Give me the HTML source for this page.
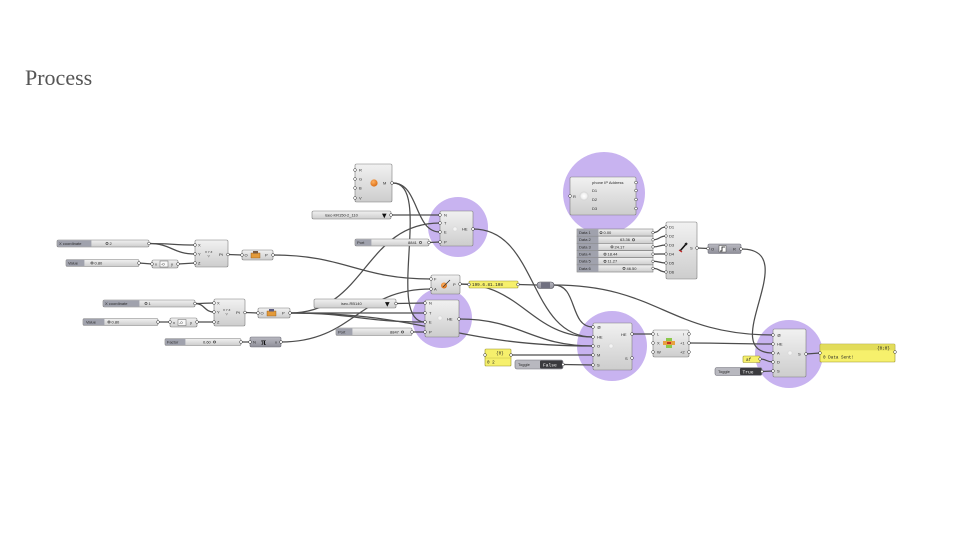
<!DOCTYPE html>
<html><head><meta charset="utf-8"><style>
html,body{margin:0;padding:0;background:#fff;width:960px;height:540px;overflow:hidden}
svg{display:block}
.t{font-family:"Liberation Sans",sans-serif;font-size:4px;fill:#2a2a2a}
.tw{font-family:"Liberation Sans",sans-serif;font-size:4px;fill:#fff}
.m{font-family:"Liberation Mono",monospace;font-size:4.3px;fill:#222}
.c{fill:url(#g);stroke:#7e7e7e;stroke-width:.6}
.cd{fill:url(#gd);stroke:#6e6e78;stroke-width:.6}
.w{fill:none;stroke:#4d4d4d;stroke-width:1.25}
.p{fill:#c8b3f0}
.gr{fill:#fff;stroke:#333;stroke-width:.5}
.lb{fill:#a0a2ad}
.o{fill:none;stroke:#333;stroke-width:.6}
.y{fill:#f6f06c;stroke:#9a942a;stroke-width:.6}
</style></head><body>
<svg width="960" height="540" viewBox="0 0 960 540" xmlns="http://www.w3.org/2000/svg">
<defs>
<linearGradient id="g" x1="0" y1="0" x2="0" y2="1"><stop offset="0" stop-color="#f1f1f1"/><stop offset="1" stop-color="#cdcdcd"/></linearGradient>
<linearGradient id="gd" x1="0" y1="0" x2="0" y2="1"><stop offset="0" stop-color="#b9b9c1"/><stop offset="1" stop-color="#8f8f99"/></linearGradient>
<radialGradient id="ob" cx="0.4" cy="0.35" r="0.7"><stop offset="0" stop-color="#ffb060"/><stop offset="1" stop-color="#d86a10"/></radialGradient>
<radialGradient id="wb" cx="0.5" cy="0.5" r="0.5"><stop offset="0" stop-color="#ffffff"/><stop offset="0.6" stop-color="#f2f2f2"/><stop offset="1" stop-color="#cfcfcf"/></radialGradient>
</defs>
<rect width="960" height="540" fill="#fff"/>
<text x="25" y="85" font-family="Liberation Serif, serif" font-size="22" fill="#555">Process</text>

<!-- purple highlight circles -->
<circle class="p" cx="458" cy="227" r="30"/>
<circle class="p" cx="442" cy="318" r="30"/>
<circle class="p" cx="604" cy="193" r="41"/>
<circle class="p" cx="612" cy="346" r="35"/>
<circle class="p" cx="789" cy="354" r="34"/>

<!-- wires -->
<path class="w" d="M149 243.5 C170 243.5 174 245 195 245"/>
<path class="w" d="M149 243.5 C171 243.5 173 254 195 254"/>
<path class="w" d="M139 263 L152 264"/>
<path class="w" d="M178 264 L195 263"/>
<path class="w" d="M228 254.5 L242 255"/>
<path class="w" d="M273 255 C346 255 358 279 431 279"/>
<path class="w" d="M195 303.5 C204 303.5 205 303 214 303"/>
<path class="w" d="M195 303.5 C205 303.5 204 312 214 312"/>
<path class="w" d="M158 322 L170 322"/>
<path class="w" d="M197 322 L214 322"/>
<path class="w" d="M245 312.5 L258 313"/>
<path class="w" d="M290 313 C351 313 364 313 425 313"/>
<path class="w" d="M290 313 C366 313 364 223 440 223"/>
<path class="w" d="M290 313 C352 313 363 322 425 322"/>
<path class="w" d="M290 313 C430 313 453 346 593 346"/>
<path class="w" d="M241 342 L250 342"/>
<path class="w" d="M281 342 C354 342 358 289 431 289"/>
<path class="w" d="M393 183 C419 183 414 232 440 232"/>
<path class="w" d="M393 183 C433 183 385 322 425 322"/>
<path class="w" d="M391 215 L440 215"/>
<path class="w" d="M429 242.5 L440 242"/>
<path class="w" d="M396 303.5 L425 303"/>
<path class="w" d="M412 332 L425 332"/>
<path class="w" d="M460 284 L469 284.5"/>
<path class="w" d="M518 284.5 L537 285"/>
<path class="w" d="M554 285 C578 285 569 327 593 327"/>
<path class="w" d="M554 285 C658 285 669 335 773 335"/>
<path class="w" d="M473 229 C538 229 528 337 593 337"/>
<path class="w" d="M460 284 C522 284 531 337 593 337"/>
<path class="w" d="M459 319 C521 319 531 346 593 346"/>
<path class="w" d="M511 355 L593 355"/>
<path class="w" d="M563 364.5 L593 365"/>
<path class="w" d="M632 334 L653 334"/>
<path class="w" d="M689 343 C731 343 731 344 773 344"/>
<path class="w" d="M741 249 C805 249 715 353 773 353"/>
<path class="w" d="M760 359 C767 359 766 362 773 362"/>
<path class="w" d="M762 371.5 L773 371"/>
<path class="w" d="M806 354 L820 353"/>
<path class="w" d="M653 232.6 C660 232.6 659 227 666 227"/>
<path class="w" d="M653 239.8 C660 239.8 659 236 666 236"/>
<path class="w" d="M653 246.9 C660 246.9 659 245 666 245"/>
<path class="w" d="M653 254.1 C660 254.1 659 254 666 254"/>
<path class="w" d="M653 261.3 C660 261.3 659 263 666 263"/>
<path class="w" d="M653 268.4 C660 268.4 659 272 666 272"/>
<path class="w" d="M697 248 L708 248.5"/>

<!-- slider X coordinate 1 -->
<rect class="c" x="57" y="240" width="92" height="7" rx="1.5"/>
<rect class="lb" x="57.4" y="240.4" width="34" height="6.2"/>
<text class="t" x="59" y="245.2">X coordinate</text>
<circle class="o" cx="107" cy="243.5" r="1.1"/>
<text class="t" x="109.5" y="245.2">2</text>
<circle class="gr" cx="149" cy="243.5" r="1.4"/>

<!-- slider Value 1 -->
<rect class="c" x="66" y="259.5" width="73" height="7" rx="1.5"/>
<rect class="lb" x="66.4" y="259.9" width="18" height="6.2"/>
<text class="t" x="68" y="264.7">Value</text>
<circle class="o" cx="92" cy="263" r="1.1"/>
<text class="t" x="94.5" y="264.7">0.80</text>
<circle class="gr" cx="139" cy="263" r="1.4"/>

<!-- negative 1 -->
<rect class="c" x="152" y="260" width="26" height="8" rx="1.5"/>
<text class="t" x="155" y="265.5">x</text>
<rect x="160" y="261" width="8" height="6" fill="#f8f8f8" stroke="#666" stroke-width=".5"/>
<text class="t" x="161" y="265.5">-0</text>
<text class="t" x="171" y="265.5">y</text>
<circle class="gr" cx="152" cy="264" r="1.4"/><circle class="gr" cx="178" cy="264" r="1.4"/>

<!-- Pt 1 -->
<rect class="c" x="195" y="240" width="33" height="27" rx="1.5"/>
<text class="t" x="198" y="246.3">X</text><text class="t" x="198" y="255.3">Y</text><text class="t" x="198" y="264.3">Z</text>
<text class="t" x="205" y="253" style="font-size:3px">X Y Z</text>
<text class="t" x="207.5" y="257" style="font-size:3px">▽</text>
<text class="t" x="219" y="256">Pt</text>
<circle class="gr" cx="195" cy="245" r="1.4"/><circle class="gr" cx="195" cy="254" r="1.4"/><circle class="gr" cx="195" cy="263" r="1.4"/><circle class="gr" cx="228" cy="254.5" r="1.4"/>

<!-- O1 -->
<rect class="c" x="242" y="250" width="31" height="10" rx="1.5"/>
<text class="t" x="244.5" y="256.5">O</text>
<rect x="251" y="253" width="9" height="5" fill="#e39a3a" stroke="#8a5010" stroke-width=".4"/>
<rect x="253" y="251" width="5" height="2.5" fill="#7a5a40"/>
<text class="t" x="265" y="256.5">P</text>
<circle class="gr" cx="242" cy="255" r="1.4"/><circle class="gr" cx="273" cy="255" r="1.4"/>

<!-- slider X coordinate 2 -->
<rect class="c" x="103" y="300" width="92" height="7" rx="1.5"/>
<rect class="lb" x="103.4" y="300.4" width="36" height="6.2"/>
<text class="t" x="105" y="305.2">X coordinate</text>
<circle class="o" cx="146" cy="303.5" r="1.1"/>
<text class="t" x="148.5" y="305.2">1</text>
<circle class="gr" cx="195" cy="303.5" r="1.4"/>

<!-- slider Value 2 -->
<rect class="c" x="83" y="318.5" width="75" height="7" rx="1.5"/>
<rect class="lb" x="83.4" y="318.9" width="21" height="6.2"/>
<text class="t" x="86" y="323.7">Value</text>
<circle class="o" cx="109" cy="322" r="1.1"/>
<text class="t" x="111.5" y="323.7">0.80</text>
<circle class="gr" cx="158" cy="322" r="1.4"/>

<!-- negative 2 -->
<rect class="c" x="170" y="318" width="27" height="9" rx="1.5"/>
<text class="t" x="173" y="324">x</text>
<rect x="178" y="319.5" width="8" height="6" fill="#f8f8f8" stroke="#666" stroke-width=".5"/>
<text class="t" x="179" y="324">-0</text>
<text class="t" x="190" y="324">y</text>
<circle class="gr" cx="170" cy="322" r="1.4"/><circle class="gr" cx="197" cy="322" r="1.4"/>

<!-- Pt 2 -->
<rect class="c" x="214" y="299" width="31" height="27" rx="1.5"/>
<text class="t" x="217" y="304.3">X</text><text class="t" x="217" y="313.3">Y</text><text class="t" x="217" y="323.3">Z</text>
<text class="t" x="223" y="311" style="font-size:3px">X Y Z</text>
<text class="t" x="225.5" y="315" style="font-size:3px">▽</text>
<text class="t" x="236" y="314">Pt</text>
<circle class="gr" cx="214" cy="303" r="1.4"/><circle class="gr" cx="214" cy="312" r="1.4"/><circle class="gr" cx="214" cy="322" r="1.4"/><circle class="gr" cx="245" cy="312.5" r="1.4"/>

<!-- O2 -->
<rect class="c" x="258" y="308" width="32" height="10" rx="1.5"/>
<text class="t" x="260.5" y="314.5">O</text>
<rect x="267" y="311" width="9" height="5" fill="#e39a3a" stroke="#8a5010" stroke-width=".4"/>
<rect x="269" y="309" width="5" height="2.5" fill="#5a5a80"/>
<text class="t" x="282" y="314.5">P</text>
<circle class="gr" cx="258" cy="313" r="1.4"/><circle class="gr" cx="290" cy="313" r="1.4"/>

<!-- Factor slider -->
<rect class="c" x="165" y="338.5" width="76" height="7" rx="1.5"/>
<rect class="lb" x="165.4" y="338.9" width="20" height="6.2"/>
<text class="t" x="167" y="343.7">Factor</text>
<text class="t" x="203" y="343.7">0.60</text>
<circle class="o" cx="214.5" cy="342" r="1.1"/>
<circle class="gr" cx="241" cy="342" r="1.4"/>

<!-- Pi -->
<rect class="cd" x="250" y="337" width="31" height="10" rx="1.5"/>
<text class="t" x="253" y="343.5">N</text>
<text x="261" y="345" font-family="Liberation Serif, serif" font-size="9" font-weight="bold" fill="#111">π</text>
<text class="t" x="275" y="343.5">x</text>
<circle class="gr" cx="250" cy="342" r="1.4"/><circle class="gr" cx="281" cy="342" r="1.4"/>

<!-- RGB M component -->
<rect class="c" x="355" y="164" width="37" height="38" rx="1.5"/>
<text class="t" x="359" y="171.5">R</text><text class="t" x="359" y="180.5">G</text><text class="t" x="359" y="189.5">B</text><text class="t" x="359" y="199.5">V</text>
<circle cx="374" cy="183" r="3.6" fill="url(#ob)"/>
<text class="t" x="383" y="184.5">M</text>
<circle class="gr" cx="355" cy="170" r="1.4"/><circle class="gr" cx="355" cy="179" r="1.4"/><circle class="gr" cx="355" cy="188" r="1.4"/><circle class="gr" cx="355" cy="198" r="1.4"/><circle class="gr" cx="392" cy="183" r="1.4"/>

<!-- value list KR150 -->
<rect class="c" x="312" y="211" width="79" height="8" rx="1.5"/>
<text class="t" x="325" y="216.5">isec-KR150-2_110</text>
<text x="382" y="217.5" font-family="DejaVu Sans, sans-serif" font-size="6" fill="#111">▼</text>
<circle class="gr" cx="391" cy="215" r="1.4"/>

<!-- upper HE -->
<rect class="c" x="440" y="211" width="33" height="35" rx="1.5"/>
<text class="t" x="444" y="216.5">N</text><text class="t" x="444" y="224.5">T</text><text class="t" x="444" y="233.5">E</text><text class="t" x="444" y="243.5">P</text>
<circle cx="455" cy="229" r="2.5" fill="url(#wb)" opacity=".8"/>
<text class="t" x="462" y="230.5">HE</text>
<circle class="gr" cx="440" cy="215" r="1.4"/><circle class="gr" cx="440" cy="223" r="1.4"/><circle class="gr" cx="440" cy="232" r="1.4"/><circle class="gr" cx="440" cy="242" r="1.4"/><circle class="gr" cx="473" cy="229" r="1.4"/>

<!-- Port 1 -->
<rect class="c" x="355" y="239" width="74" height="7" rx="1.5"/>
<rect class="lb" x="355.4" y="239.4" width="16" height="6.2"/>
<text class="t" x="357" y="244.2">Port</text>
<text class="t" x="408" y="244.2">8841</text>
<circle class="o" cx="420.5" cy="242.5" r="1.1"/>
<circle class="gr" cx="429" cy="242.5" r="1.4"/>

<!-- F A P component -->
<rect class="c" x="431" y="275" width="29" height="19" rx="1.5"/>
<text class="t" x="434" y="280.5">F</text><text class="t" x="434" y="290.5">A</text>
<circle cx="444" cy="285.5" r="3" fill="url(#ob)"/>
<path d="M443 287 L450 280" stroke="#333" stroke-width=".8"/>
<text class="t" x="453" y="286">P</text>
<circle class="gr" cx="431" cy="279" r="1.4"/><circle class="gr" cx="431" cy="289" r="1.4"/><circle class="gr" cx="460" cy="284" r="1.4"/>

<!-- panel ip -->
<rect class="y" x="469" y="281" width="49" height="7" rx="1"/>
<text class="m" x="472" y="286">199.6.81.108</text>
<circle class="gr" cx="469" cy="284.5" r="1.4"/><circle class="gr" cx="518" cy="284.5" r="1.4"/>

<!-- value list RB140 -->
<rect class="c" x="314" y="299" width="82" height="9" rx="1.5"/>
<text class="t" x="341" y="305">isec-RB140</text>
<text x="385" y="306" font-family="DejaVu Sans, sans-serif" font-size="6" fill="#111">▼</text>
<circle class="gr" cx="396" cy="303.5" r="1.4"/>

<!-- lower HE -->
<rect class="c" x="425" y="300" width="34" height="37" rx="1.5"/>
<text class="t" x="429" y="304.5">N</text><text class="t" x="429" y="314.5">T</text><text class="t" x="429" y="323.5">E</text><text class="t" x="429" y="333.5">P</text>
<circle cx="440" cy="318" r="2.5" fill="url(#wb)" opacity=".8"/>
<text class="t" x="447" y="320.5">HE</text>
<circle class="gr" cx="425" cy="303" r="1.4"/><circle class="gr" cx="425" cy="313" r="1.4"/><circle class="gr" cx="425" cy="322" r="1.4"/><circle class="gr" cx="425" cy="332" r="1.4"/><circle class="gr" cx="459" cy="319" r="1.4"/>

<!-- Port 2 -->
<rect class="c" x="336" y="328" width="76" height="7.5" rx="1.5"/>
<rect class="lb" x="336.4" y="328.4" width="16" height="6.7"/>
<text class="t" x="338" y="333.5">Port</text>
<text class="t" x="390" y="333.5">8847</text>
<circle class="o" cx="402.5" cy="332" r="1.1"/>
<circle class="gr" cx="412" cy="332" r="1.4"/>

<!-- relay -->
<rect x="537" y="282" width="17" height="6.5" rx="3" fill="url(#gd)" stroke="#4a4a55" stroke-width=".6"/>
<rect x="541" y="282.5" width="9" height="5.5" fill="#707080"/>

<!-- phone IP component -->
<rect class="c" x="570" y="177" width="66" height="38" rx="1.5"/>
<text class="t" x="573" y="198">R</text>
<circle cx="584" cy="196" r="4.5" fill="url(#wb)"/>
<text class="t" x="592" y="184">phone IP Address</text>
<text class="t" x="592" y="192">D1</text>
<text class="t" x="592" y="201">D2</text>
<text class="t" x="592" y="210">D3</text>
<circle class="gr" cx="570" cy="196" r="1.4"/>
<circle class="gr" cx="636" cy="182.5" r="1.4"/><circle class="gr" cx="636" cy="190.5" r="1.4"/><circle class="gr" cx="636" cy="199.5" r="1.4"/><circle class="gr" cx="636" cy="208.5" r="1.4"/>

<!-- Data sliders -->
<g>
<rect class="c" x="577" y="229" width="76" height="7.17"/>
<rect class="c" x="577" y="236.17" width="76" height="7.17"/>
<rect class="c" x="577" y="243.34" width="76" height="7.17"/>
<rect class="c" x="577" y="250.51" width="76" height="7.17"/>
<rect class="c" x="577" y="257.68" width="76" height="7.17"/>
<rect class="c" x="577" y="264.85" width="76" height="7.17"/>
<rect class="lb" x="577.4" y="229.4" width="21" height="42.4"/>
<g stroke="#858585" stroke-width=".5"><line x1="577" y1="236.17" x2="653" y2="236.17"/><line x1="577" y1="243.34" x2="653" y2="243.34"/><line x1="577" y1="250.51" x2="653" y2="250.51"/><line x1="577" y1="257.68" x2="653" y2="257.68"/><line x1="577" y1="264.85" x2="653" y2="264.85"/></g>
<text class="t" x="579" y="234">Data 1</text>
<text class="t" x="579" y="241.2">Data 2</text>
<text class="t" x="579" y="248.3">Data 3</text>
<text class="t" x="579" y="255.5">Data 4</text>
<text class="t" x="579" y="262.7">Data 5</text>
<text class="t" x="579" y="269.8">Data 6</text>
<circle class="o" cx="601" cy="232.6" r="1.1"/><text class="t" x="603.5" y="234">0.00</text>
<text class="t" x="620" y="241.2">63.36</text><circle class="o" cx="633.5" cy="239.8" r="1.1"/>
<circle class="o" cx="612" cy="246.9" r="1.1"/><text class="t" x="614.5" y="248.3">24.17</text>
<circle class="o" cx="605" cy="254.1" r="1.1"/><text class="t" x="607.5" y="255.5">18.44</text>
<circle class="o" cx="605" cy="261.3" r="1.1"/><text class="t" x="607.5" y="262.7">11.27</text>
<circle class="o" cx="624" cy="268.4" r="1.1"/><text class="t" x="626.5" y="269.8">46.50</text>
<circle class="gr" cx="653" cy="232.6" r="1.3"/><circle class="gr" cx="653" cy="239.8" r="1.3"/><circle class="gr" cx="653" cy="246.9" r="1.3"/><circle class="gr" cx="653" cy="254.1" r="1.3"/><circle class="gr" cx="653" cy="261.3" r="1.3"/><circle class="gr" cx="653" cy="268.4" r="1.3"/>
</g>

<!-- D1..D6 component -->
<rect class="c" x="666" y="222" width="31" height="57" rx="1.5"/>
<text class="t" x="669" y="228.5">D1</text><text class="t" x="669" y="237.5">D2</text><text class="t" x="669" y="246.5">D3</text><text class="t" x="669" y="255.5">D4</text><text class="t" x="669" y="264.5">D5</text><text class="t" x="669" y="273.5">D6</text>
<path d="M680 251 L687 243" stroke="#111" stroke-width="1.6"/>
<path d="M679 250 L682 252" stroke="#c02020" stroke-width="1.2"/>
<circle cx="686" cy="244" r="1.3" fill="#222"/>
<text class="t" x="690" y="249.5">S</text>
<circle class="gr" cx="666" cy="227" r="1.3"/><circle class="gr" cx="666" cy="236" r="1.3"/><circle class="gr" cx="666" cy="245" r="1.3"/><circle class="gr" cx="666" cy="254" r="1.3"/><circle class="gr" cx="666" cy="263" r="1.3"/><circle class="gr" cx="666" cy="272" r="1.3"/><circle class="gr" cx="697" cy="248" r="1.4"/>

<!-- O R component -->
<rect class="cd" x="708" y="244" width="33" height="9.5" rx="1.5"/>
<text class="t" x="711" y="250.3">O</text>
<rect x="719" y="245.5" width="7" height="6.5" fill="#fff" stroke="#444" stroke-width=".5"/>
<path d="M720 251 L722 251 L722 247 L725 247" stroke="#111" stroke-width=".8" fill="none"/>
<text class="t" x="733" y="250.3">R</text>
<circle class="gr" cx="708" cy="248.5" r="1.4"/><circle class="gr" cx="741" cy="249" r="1.4"/>

<!-- big comp -->
<rect class="c" x="593" y="323" width="39" height="47" rx="1.5"/>
<text class="t" x="597" y="328.5">@</text><text class="t" x="597" y="338.5">HE</text><text class="t" x="597" y="347.5">O</text><text class="t" x="597" y="356.5">M</text><text class="t" x="597" y="366.5">S</text>
<circle cx="611" cy="346" r="2.5" fill="url(#wb)" opacity=".8"/>
<text class="t" x="621" y="336">HE</text>
<text class="t" x="625" y="360">S</text>
<circle class="gr" cx="593" cy="327" r="1.4"/><circle class="gr" cx="593" cy="337" r="1.4"/><circle class="gr" cx="593" cy="346" r="1.4"/><circle class="gr" cx="593" cy="355" r="1.4"/><circle class="gr" cx="593" cy="365" r="1.4"/><circle class="gr" cx="632" cy="334" r="1.4"/><circle class="gr" cx="632" cy="358" r="1.4"/>

<!-- panel {0} -->
<rect class="y" x="485" y="349" width="26" height="17" rx="1"/>
<line x1="485" y1="358" x2="511" y2="358" stroke="#b8b040" stroke-width=".4"/>
<text class="m" x="496" y="354.5">{0}</text>
<text class="m" x="487" y="363.5">0 2</text>
<circle class="gr" cx="485" cy="355" r="1.4"/><circle class="gr" cx="511" cy="355" r="1.4"/>

<!-- toggle False -->
<rect x="515" y="360" width="48" height="9" rx="2" fill="#b8b8bf" stroke="#6e6e78" stroke-width=".6"/>
<rect x="540" y="360.5" width="22.5" height="8" rx="1" fill="#3a3a3e"/>
<text class="t" x="518" y="366">Toggle</text>
<text class="tw" x="543" y="366.3" style="font-family:'Liberation Mono',monospace;font-size:4.6px">False</text>
<circle class="gr" cx="563" cy="364.5" r="1.4"/>

<!-- L X W component -->
<rect class="c" x="653" y="330" width="36" height="27" rx="1.5"/>
<text class="t" x="657" y="335.5">L</text><text class="t" x="657" y="344.5">X</text><text class="t" x="657" y="353.5">W</text>
<rect x="666" y="338" width="6" height="10" fill="#8cc84a"/>
<rect x="663" y="341" width="12" height="4" fill="#e8a040"/>
<rect x="667" y="342" width="4" height="2" fill="#c03020"/>
<text class="t" x="683" y="335.5">i</text><text class="t" x="680" y="344.5">+1</text><text class="t" x="680" y="353.5">+2</text>
<circle class="gr" cx="653" cy="334" r="1.4"/><circle class="gr" cx="653" cy="343" r="1.4"/><circle class="gr" cx="653" cy="352" r="1.4"/><circle class="gr" cx="689" cy="334" r="1.4"/><circle class="gr" cx="689" cy="343" r="1.4"/><circle class="gr" cx="689" cy="352" r="1.4"/>

<!-- final comp -->
<rect class="c" x="773" y="329" width="33" height="48" rx="1.5"/>
<text class="t" x="777" y="336.5">@</text><text class="t" x="777" y="345.5">HE</text><text class="t" x="777" y="354.5">A</text><text class="t" x="777" y="363.5">D</text><text class="t" x="777" y="372.5">S</text>
<circle cx="790" cy="353" r="2.5" fill="url(#wb)" opacity=".8"/>
<text class="t" x="798" y="355.5">S</text>
<circle class="gr" cx="773" cy="335" r="1.4"/><circle class="gr" cx="773" cy="344" r="1.4"/><circle class="gr" cx="773" cy="353" r="1.4"/><circle class="gr" cx="773" cy="362" r="1.4"/><circle class="gr" cx="773" cy="371" r="1.4"/><circle class="gr" cx="806" cy="354" r="1.4"/>

<!-- af panel -->
<rect class="y" x="743" y="356" width="17" height="6.5" rx="1"/>
<text class="m" x="746" y="360.8">af</text>
<circle class="gr" cx="760" cy="359" r="1.3"/>

<!-- toggle True -->
<rect x="715" y="367.5" width="47" height="8" rx="2" fill="#b8b8bf" stroke="#6e6e78" stroke-width=".6"/>
<rect x="740" y="368" width="21.5" height="7" rx="1" fill="#3a3a3e"/>
<text class="t" x="718" y="373">Toggle</text>
<text class="tw" x="742.5" y="373.3" style="font-family:'Liberation Mono',monospace;font-size:4.6px">True</text>
<circle class="gr" cx="762" cy="371.5" r="1.4"/>

<!-- output panel -->
<rect class="y" x="820" y="344" width="75" height="18" rx="1"/>
<rect x="820.3" y="344.3" width="74.4" height="6" fill="#e2dc5a"/>
<text class="m" x="877" y="349.3">{0;0}</text>
<text class="m" x="823" y="358.5">0 Data Sent!</text>
<circle class="gr" cx="820" cy="353" r="1.4"/><circle class="gr" cx="895" cy="352" r="1.4"/>
</svg>
</body></html>
